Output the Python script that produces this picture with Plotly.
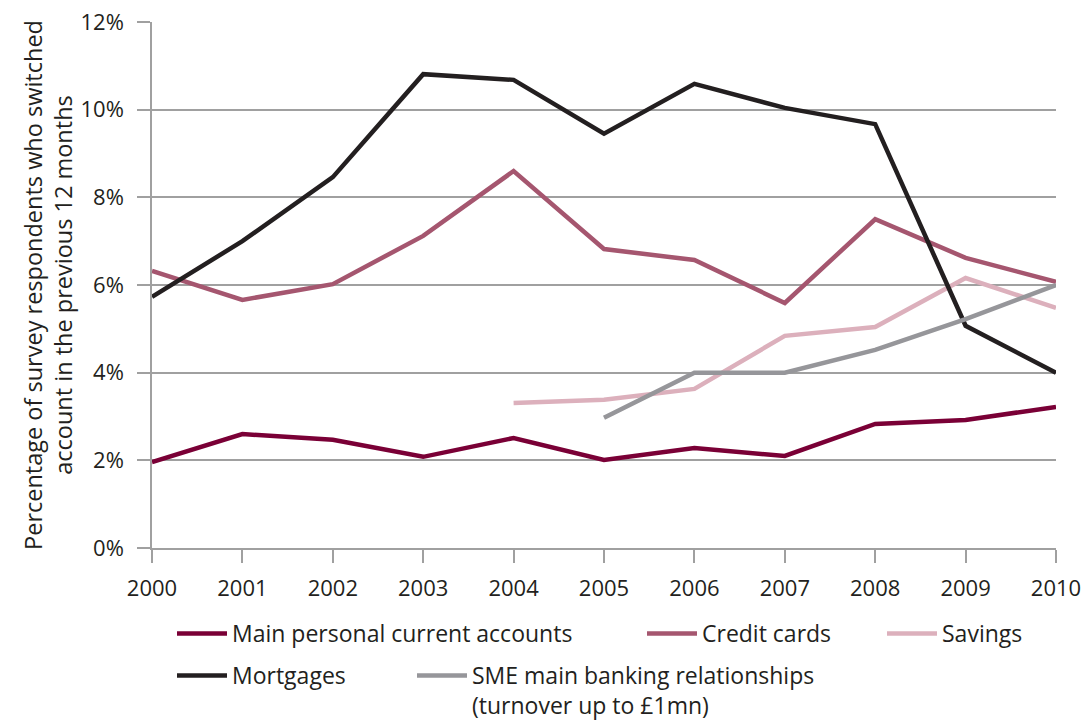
import plotly.graph_objects as go

years = list(range(2000, 2011))
main_personal = [1.96, 2.60, 2.47, 2.08, 2.51, 2.01, 2.28, 2.10, 2.83, 2.92, 3.22]
credit_cards = [6.32, 5.66, 6.02, 7.12, 8.60, 6.82, 6.57, 5.59, 7.50, 6.62, 6.07]
savings_years = list(range(2004, 2011))
savings = [3.31, 3.38, 3.63, 4.84, 5.04, 6.16, 5.48]
mortgages = [5.73, 7.00, 8.46, 10.81, 10.68, 9.45, 10.59, 10.04, 9.67, 5.07, 4.00]
sme_years = list(range(2005, 2011))
sme = [2.97, 4.00, 4.00, 4.52, 5.22, 6.00]
y_ticks = [0, 2, 4, 6, 8, 10, 12]
y_ticktext = [f"{v}%" for v in y_ticks]

FONT = "Open Sans"
TXT = "#231f20"
GRID = "#a0a0a0"

PL, PT, PW, PH = 152, 22, 904, 526
FW, FH = 1083, 720

fig = go.Figure()
series = [
    ("Main personal current accounts", years, main_personal, "#7a0036", "legend"),
    ("Credit cards", years, credit_cards, "#a5566f", "legend2"),
    ("Savings", savings_years, savings, "#dcb0bc", "legend3"),
    ("Mortgages", years, mortgages, "#231f20", "legend4"),
    ("SME main banking relationships<br>(turnover up to £1mn)", sme_years, sme, "#96969a", "legend5"),
]
for name, xs, ys, col, lg in series:
    fig.add_trace(go.Scatter(x=xs, y=ys, mode="lines", name=name,
                             line=dict(color=col, width=4.5), legend=lg))

def lx(px):  # screen px -> paper x
    return (px - PL) / PW
def ly(py):  # screen px -> paper y
    return (PT + PH - py) / PH

leg_common = dict(font=dict(family=FONT, size=23, color=TXT), bgcolor="rgba(0,0,0,0)",
                  xanchor="left", yanchor="top", tracegroupgap=0, itemwidth=50,
                  valign="top")
fig.update_layout(
    legend=dict(x=lx(172), y=ly(612), **leg_common),
    legend2=dict(x=lx(642), y=ly(612), **leg_common),
    legend3=dict(x=lx(882), y=ly(612), **leg_common),
    legend4=dict(x=lx(172), y=ly(654), **leg_common),
    legend5=dict(x=lx(412), y=ly(654), **leg_common),
)

fig.update_layout(
    width=FW, height=FH,
    margin=dict(l=PL, r=FW - PL - PW, t=PT, b=FH - PT - PH, autoexpand=False),
    paper_bgcolor="white", plot_bgcolor="white",
    font=dict(family=FONT, size=20, color=TXT),
    showlegend=True,
    xaxis=dict(range=[2000, 2010], tickmode="array", tickvals=years,
               ticktext=[str(y) for y in years], showgrid=False, zeroline=False,
               showline=True, linecolor=GRID, linewidth=1.5, automargin=False,
               ticks="outside", ticklen=13, tickcolor=GRID, tickwidth=1.5,
               ticklabelstandoff=7, ticklabeloverflow="allow",
               tickfont=dict(family=FONT, size=22, color=TXT)),
    yaxis=dict(range=[0, 12], tickmode="array", tickvals=y_ticks, ticktext=y_ticktext,
               showgrid=True, gridcolor=GRID, gridwidth=1.5, zeroline=False,
               showline=True, linecolor=GRID, linewidth=1.5, automargin=False,
               ticks="outside", ticklen=13, tickcolor=GRID, tickwidth=1.5,
               ticklabelstandoff=9, ticklabeloverflow="allow",
               tickfont=dict(family=FONT, size=22, color=TXT),
               title=dict(text="Percentage of survey respondents who switched<br>account in the previous 12 months",
                          font=dict(family=FONT, size=23.5, color=TXT), standoff=1)),
)

fig.write_html(
    "out.html",
    config={"displayModeBar": False},
    post_script="document.body.style.margin='0';document.body.style.overflow='hidden';"
                "document.documentElement.style.overflow='hidden';",
)
